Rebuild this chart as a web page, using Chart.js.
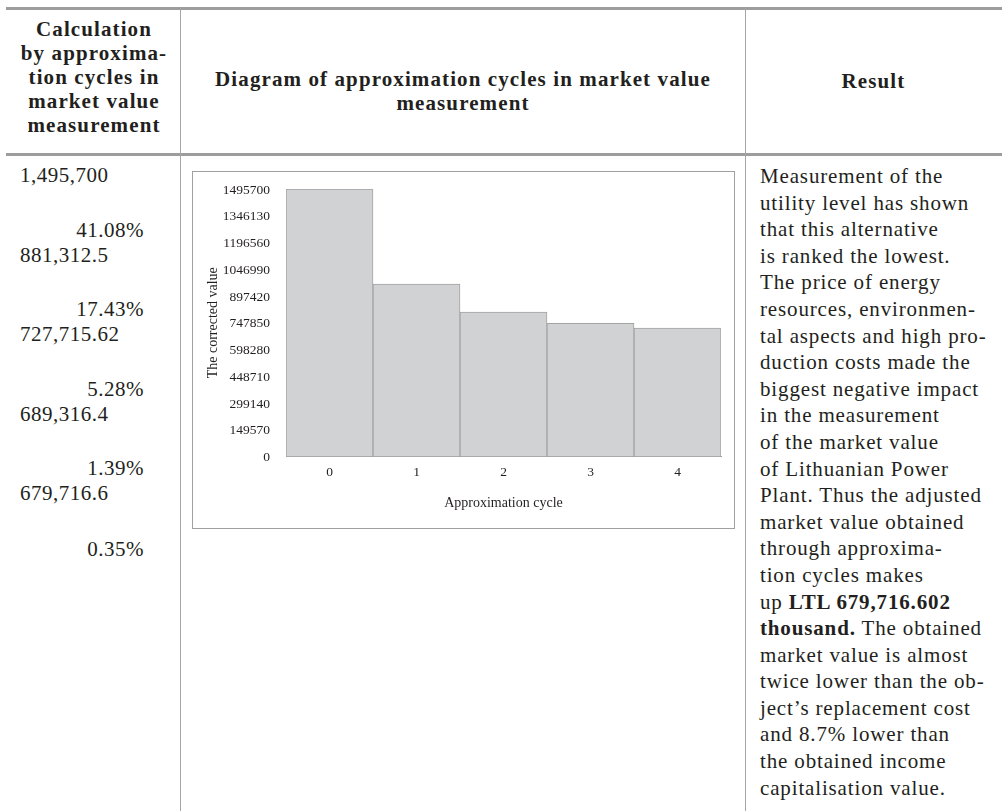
<!DOCTYPE html>
<html>
<head>
<meta charset="utf-8">
<script src="https://cdn.jsdelivr.net/npm/chart.js@4"></script>
<style>
  body { margin: 0; background: #fff; font-family: "Liberation Serif", serif; color: #231f20; }
  #page { position: relative; width: 1002px; height: 811px; overflow: hidden; }
  .hline { position: absolute; left: 6px; right: 0; height: 3px; background: #9d9d9d; }
  .vline { position: absolute; top: 8px; bottom: 0; width: 1px; background: #a5a5a5; }
  .head { position: absolute; font-weight: bold; font-size: 21px; line-height: 24px; letter-spacing: 1.1px; text-align: center; white-space: nowrap; }
  .cell { position: absolute; font-size: 21px; line-height: 25px; letter-spacing: 0.5px; white-space: nowrap; }
  .pct { text-align: right; width: 124px; left: 20px; }
  #result { position: absolute; left: 760px; top: 163px; font-size: 21px; line-height: 26.6px; letter-spacing: 0.85px; white-space: nowrap; }
  #chartBox { position: absolute; left: 192px; top: 171px; width: 543px; height: 358px; box-sizing: border-box; border: 1px solid #a0a0a0; }
  #chartBox canvas { display: block; }
</style>
</head>
<body>
<div id="page">
  <div class="hline" style="top:7px"></div>
  <div class="hline" style="top:153px"></div>
  <div class="vline" style="left:180px"></div>
  <div class="vline" style="left:745px"></div>

  <div class="head" style="left:7px; width:174px; top:17px">Calculation<br>by approxima-<br>tion cycles in<br>market value<br>measurement</div>
  <div class="head" style="left:181px; width:564px; top:67px">Diagram of approximation cycles in market value<br>measurement</div>
  <div class="head" style="left:745px; width:257px; top:69px">Result</div>

  <div id="calc"></div>

  <div id="chartBox"><canvas id="cycles" width="541" height="356"></canvas></div>

  <div id="result">Measurement of the<br>utility level has shown<br>that this alternative<br>is ranked the lowest.<br>The price of energy<br>resources, environmen-<br>tal aspects and high pro-<br>duction costs made the<br>biggest negative impact<br>in the measurement<br>of the market value<br>of Lithuanian Power<br>Plant. Thus the adjusted<br>market value obtained<br>through approxima-<br>tion cycles makes<br>up <b>LTL 679,716.602</b><br><b>thousand.</b> The obtained<br>market value is almost<br>twice lower than the ob-<br>ject’s replacement cost<br>and 8.7% lower than<br>the obtained income<br>capitalisation value.</div>
</div>

<script>
// left column of the table
var calcValues = ['1,495,700', '881,312.5', '727,715.62', '689,316.4', '679,716.6'];
var calcPercents = ['41.08%', '17.43%', '5.28%', '1.39%', '0.35%'];

// chart data
var cycles = ['0', '1', '2', '3', '4'];
var correctedValues = [1495700, 964500, 808000, 744800, 718500];
var yTicks = [0, 149570, 299140, 448710, 598280, 747850, 897420, 1046990, 1196560, 1346130, 1495700];

var calc = document.getElementById('calc');
var valueTops = [163, 243, 322, 402, 481];
var pctTops = [218, 297, 377, 456, 537];
for (var i = 0; i < calcValues.length; i++) {
  var v = document.createElement('div');
  v.className = 'cell';
  v.style.left = '20px';
  v.style.top = valueTops[i] + 'px';
  v.textContent = calcValues[i];
  calc.appendChild(v);

  var p = document.createElement('div');
  p.className = 'cell pct';
  p.style.top = pctTops[i] + 'px';
  p.textContent = calcPercents[i];
  calc.appendChild(p);
}

var serif = 'Liberation Serif';
var ctx = document.getElementById('cycles').getContext('2d');

var chart = new Chart(ctx, {
  type: 'bar',
  data: {
    labels: cycles,
    datasets: [{
      label: 'The corrected value',
      data: correctedValues,
      backgroundColor: '#d1d2d4',
      borderColor: '#a3a3a3',
      borderWidth: 1,
      barPercentage: 1,
      categoryPercentage: 1
    }]
  },
  options: {
    responsive: false,
    animation: false,
    layout: { padding: { top: 17, right: 13, left: 0, bottom: 0 } },
    plugins: {
      legend: { display: false },
      tooltip: { enabled: false }
    },
    scales: {
      x: {
        grid: { display: false },
        border: { display: true, color: '#a0a0a0', width: 1 },
        ticks: { color: '#231f20', padding: 0, font: { family: serif, size: 13.5 } },
        title: {
          display: true,
          text: 'Approximation cycle',
          color: '#231f20',
          padding: { top: 0, bottom: 16 },
          font: { family: serif, size: 14 }
        },
        afterFit: function(scale) { scale.height = 71.5; }
      },
      y: {
        min: 0,
        max: 1495700,
        grid: { display: false },
        border: { display: true, color: '#a0a0a0', width: 1 },
        ticks: {
          color: '#231f20',
          padding: 8,
          labelOffset: 1,
          font: { family: serif, size: 13.5 },
          callback: function(value) { return String(value); }
        },
        afterBuildTicks: function(scale) {
          scale.ticks = yTicks.map(function(t) { return { value: t }; });
        },
        title: {
          display: true,
          text: 'The corrected value',
          color: '#231f20',
          padding: { top: 12, bottom: 0 },
          font: { family: serif, size: 14 }
        },
        afterFit: function(scale) { scale.width = 93; }
      }
    }
  }
});
</script>
</body>
</html>
